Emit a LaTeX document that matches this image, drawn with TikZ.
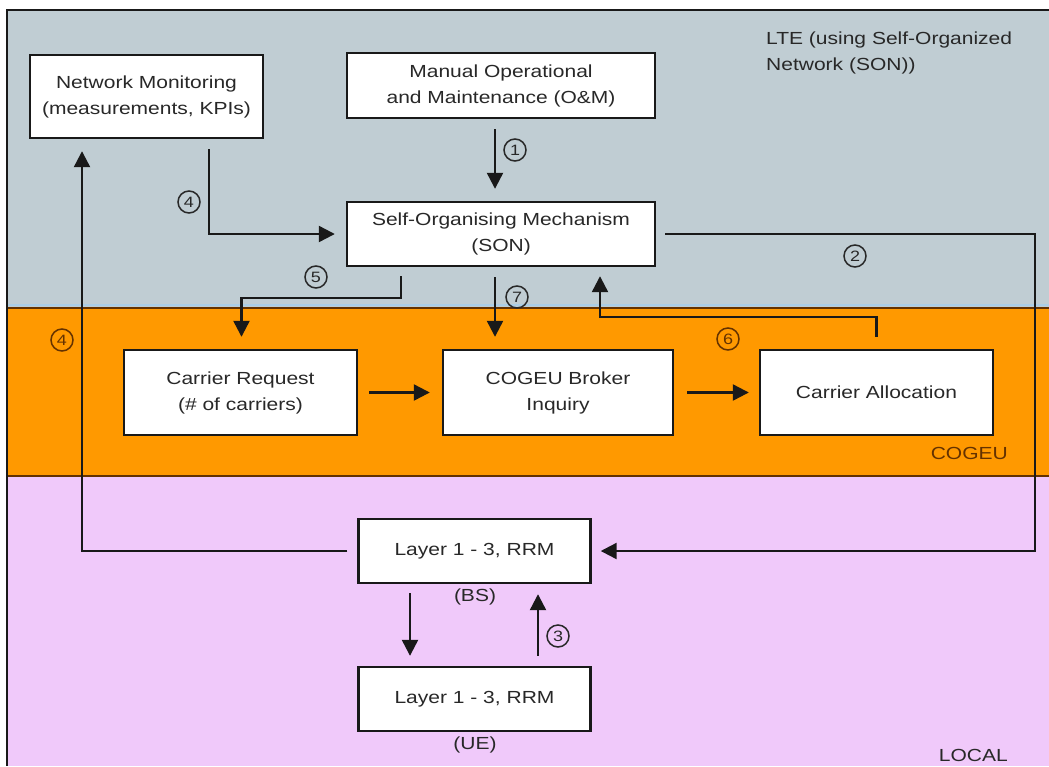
\documentclass[tikz,border=0pt]{standalone}
\usepackage{fontspec}
\setmainfont[FakeStretch=1.2]{Liberation Sans}
\usetikzlibrary{arrows.meta}
\definecolor{lteblue}{RGB}{192,205,211}
\definecolor{cogeuor}{RGB}{255,153,0}
\definecolor{localpk}{RGB}{240,201,250}
\definecolor{txt}{RGB}{40,40,40}
\definecolor{brn}{RGB}{100,50,0}
\definecolor{edge}{RGB}{25,25,25}
\begin{document}
\begin{tikzpicture}[x=1pt,y=-1pt,
  box/.style={draw=edge, line width=2.4pt, fill=white, text=txt, align=center,
    font=\fontsize{17.5}{26}\selectfont, inner sep=2pt},
  arr/.style={line width=2.3pt, draw=edge, -{Triangle[length=16pt,width=16pt]}},
  num/.style={circle, draw=#1, text=#1, line width=1.5pt, minimum size=22pt,
    inner sep=0pt, font=\fontsize{15}{15}\selectfont},
  num/.default=txt,
  lbl/.style={text=txt, font=\fontsize{17.5}{26}\selectfont, inner sep=0pt}
]
\useasboundingbox (0,0) rectangle (1049,766);
% bands
\fill[lteblue] (7,10) rectangle (1049,308);
\fill[cogeuor] (7,308) rectangle (1049,476);
\fill[localpk] (7,476) rectangle (1049,766);
\draw[line width=1.5pt, color={rgb,255:red,170;green,205;blue,230}] (7,305) -- (1049,305);
\draw[line width=1.8pt, brn] (7,308) -- (1049,308);
\draw[line width=1.8pt, brn] (7,476) -- (1049,476);
\draw[line width=2.2pt, edge] (1049,10) -- (7,10) -- (7,766);

% boxes
\node[box, minimum width=233pt, minimum height=83pt] (nm) at (146.5,96.5) {Network Monitoring\\(measurements, KPIs)};
\node[box, minimum width=308pt, minimum height=65pt] (om) at (501,85.5) {Manual Operational\\and Maintenance (O\&M)};
\node[box, minimum width=308pt, minimum height=64pt] (son) at (501,234) {Self-Organising Mechanism\\(SON)};
\node[box, minimum width=233pt, minimum height=85pt] (cr) at (240.5,392.5) {Carrier Request\\(\# of carriers)};
\node[box, minimum width=230pt, minimum height=85pt] (cb) at (558,392.5) {COGEU Broker\\Inquiry};
\node[box, minimum width=233pt, minimum height=85pt] (ca) at (876.5,392.5) {Carrier Allocation};
\node[box, minimum width=232pt, minimum height=64pt] (bs) at (474.5,551) {Layer 1 - 3, RRM};
\node[box, minimum width=232pt, minimum height=64pt] (ue) at (474.5,699) {Layer 1 - 3, RRM};

% labels
\node[lbl, anchor=north west, align=left] (lte) at (766,32) {LTE (using Self-Organized\\Network (SON))};
\node[lbl, anchor=east, text=brn] (cogeu) at (1008,453) {COGEU};
\node[lbl, anchor=east] (local) at (1008,755) {LOCAL};
\node[lbl] (bsl) at (475,597) {(BS)};
\node[lbl] (uel) at (475,745) {(UE)};

% connectors
\draw[arr] ([xshift=-6pt,yshift=-10pt]om.south) -- ([xshift=-6pt,yshift=12pt]son.north);
\draw[arr] ([xshift=62.5pt,yshift=-10pt]nm.south) |- ([xshift=-11pt]son.west);
\coordinate (c2) at (1035,234);
\draw[arr] ([xshift=9pt]son.east) -- (c2) |- ([xshift=9pt]bs.east);
\draw[arr] ([xshift=-100pt,yshift=-9pt]son.south) -- ++(0,22) -| ([xshift=1pt,yshift=12pt]cr.north);
\draw[arr] ([xshift=-6pt,yshift=-10pt]son.south) -- ([xshift=-63pt,yshift=12pt]cb.north);
\draw[arr] ([yshift=12pt]ca.north) -- ++(0,-20) -| ([xshift=99pt,yshift=-9pt]son.south);
\draw[arr] ([xshift=11pt]cr.east) -- ([xshift=-12pt]cb.west);
\draw[arr] ([xshift=13pt]cb.east) -- ([xshift=-10pt]ca.west);
\draw[arr] ([xshift=-10pt]bs.west) -| ([xshift=-64.5pt,yshift=-12pt]nm.south);
\draw[arr] ([xshift=-64.5pt,yshift=-9pt]bs.south) -- ([xshift=-64.5pt,yshift=10pt]ue.north);
\draw[arr] ([xshift=63.5pt,yshift=10pt]ue.north) -- ([xshift=63.5pt,yshift=-10pt]bs.south);

% step numbers
\node[num] (n1) at (515,150) {1};
\node[num] (n2) at (855,256) {2};
\node[num] (n3) at (558,636) {3};
\node[num] (n4a) at (189,202) {4};
\node[num=brn] (n4b) at (62,340) {4};
\node[num] (n5) at (316,277) {5};
\node[num=brn] (n6) at (728,339) {6};
\node[num] (n7) at (517,297) {7};
\end{tikzpicture}
\end{document}
